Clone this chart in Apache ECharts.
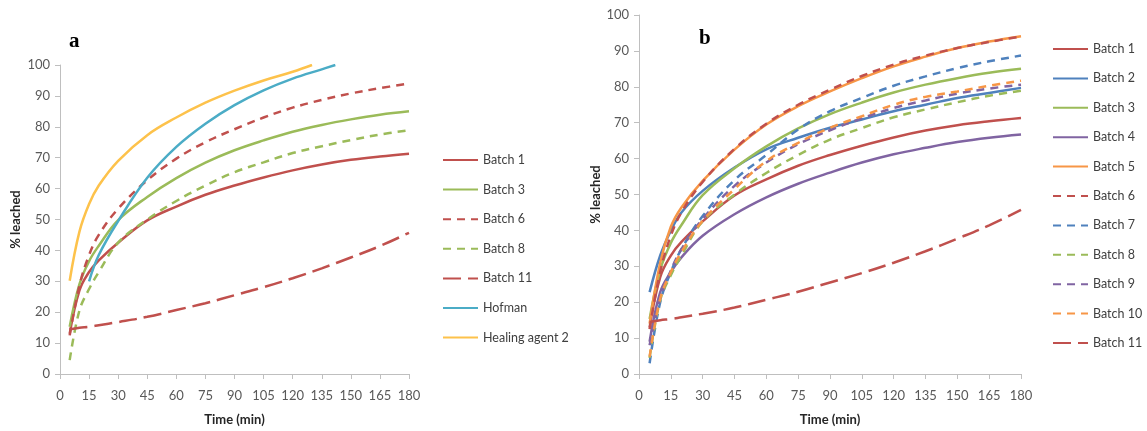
<!DOCTYPE html>
<html>
<head>
<meta charset="utf-8">
<script src="https://cdn.jsdelivr.net/npm/echarts@6/dist/echarts.min.js"></script>
<style>
  html, body { margin: 0; padding: 0; background: #fff; }
  #chart { width: 1147px; height: 431px; }
</style>
</head>
<body>
<div id="chart"></div>
<script>
// time points (min) shared by the batches
const times = [5, 10, 15, 20, 30, 45, 60, 75, 90, 105, 120, 135, 150, 165, 180];

const batch1  = [13, 27, 33, 36.8, 42.5, 49.7, 54.2, 58, 61, 63.6, 65.9, 67.8, 69.3, 70.4, 71.3];
const batch2  = [22.8, 33, 39.9, 45, 51, 57.5, 62.6, 65.8, 68.6, 70.9, 73.2, 75, 76.9, 78.3, 79.7];
const batch3  = [15.3, 29, 36.5, 41.5, 49.8, 57.3, 63.4, 68.4, 72.4, 75.6, 78.4, 80.6, 82.4, 83.9, 85];
const batch4  = [9, 22.8, 28.4, 32.5, 38.5, 44.5, 49.2, 53, 56.1, 58.9, 61.2, 63, 64.6, 65.8, 66.7];
const batch5  = [14, 31, 41, 46.4, 53.8, 62.5, 69.5, 74.6, 78.7, 82.4, 85.7, 88.4, 90.8, 92.6, 94.1];
const batch6  = [12.5, 28.5, 38.5, 45, 53.5, 62.7, 69.7, 75, 79.2, 83, 86.2, 88.7, 90.8, 92.5, 94];
const batch7  = [3, 20, 28.4, 34.8, 44, 54, 61, 68.1, 73.2, 76.9, 80.3, 82.9, 85.2, 87.1, 88.7];
const batch8  = [4.5, 20.5, 27.5, 33, 42.5, 50, 56, 61, 65.3, 68.5, 71.5, 73.7, 75.7, 77.5, 78.9];
const batch9  = [8, 21, 28.8, 34.8, 43.2, 52.4, 58.9, 64, 67.9, 71.2, 74.1, 76.2, 78.1, 79.5, 80.6];
const batch10 = [4.8, 21, 28.4, 34, 42.7, 51.5, 59.3, 64.4, 68.6, 71.8, 75, 77.2, 78.7, 80.3, 81.7];
const batch11 = [14.5, 15, 15.3, 15.8, 16.8, 18.5, 20.7, 22.9, 25.5, 28.1, 31, 34.2, 37.7, 41.4, 45.7];

const hofmanTimes = [15, 20, 30, 45, 60, 75, 90, 105, 120, 135, 142];
const hofman = [30, 38.5, 49.5, 63.5, 73.5, 81, 87, 91.8, 95.6, 98.6, 100];

const healingTimes = [5, 10, 15, 20, 30, 45, 60, 75, 90, 105, 120, 130];
const healing = [30.2, 46, 55, 61, 69, 77.3, 83, 87.8, 91.7, 95, 97.8, 100];

const RED = '#C0504D', BLUE = '#4F81BD', GREEN = '#9BBB59', PURPLE = '#8064A2',
      ORANGE = '#F79646', AQUA = '#4BACC6', YELLOW = '#FDC24B';
const SHORT = [8, 6], LONG = [18, 7];
const FONT = 'Lato';

function pairs(xs, ys) {
  return xs.map((x, i) => [x, ys[i]]);
}

function line(name, xs, ys, color, dash, idx) {
  return {
    name: name,
    type: 'line',
    xAxisIndex: idx,
    yAxisIndex: idx,
    data: pairs(xs, ys),
    smooth: 0.4,
    symbol: 'none',
    lineStyle: { color: color, width: 2.5, type: dash || 'solid' },
    itemStyle: { color: color }
  };
}

function xAx(idx) {
  return {
    type: 'value', gridIndex: idx, min: 0, max: 180, interval: 15,
    name: 'Time (min)', nameLocation: 'middle', nameGap: 39,
    nameTextStyle: { fontFamily: FONT, fontWeight: 'bold', fontSize: 13, color: '#262626' },
    axisLine: { lineStyle: { color: '#BFBFBF' } },
    axisTick: { show: true, length: 5, lineStyle: { color: '#BFBFBF' } },
    axisLabel: { margin: 15, fontFamily: FONT, fontSize: 13, color: '#595959' },
    splitLine: { show: false }
  };
}

function yAx(idx, gap) {
  return {
    type: 'value', gridIndex: idx, min: 0, max: 100, interval: 10,
    name: '% leached', nameLocation: 'middle', nameGap: gap,
    nameTextStyle: { fontFamily: FONT, fontWeight: 'bold', fontSize: 13, color: '#262626' },
    axisLine: { show: true, lineStyle: { color: '#BFBFBF' } },
    axisTick: { show: true, length: 5, lineStyle: { color: '#BFBFBF' } },
    axisLabel: { margin: 10, fontFamily: FONT, fontSize: 13, color: '#595959' },
    splitLine: { show: false }
  };
}

function legend(names, left, top, gap) {
  return {
    orient: 'vertical', left: left, top: top, padding: 0,
    itemWidth: 35, itemHeight: 14, itemGap: gap,
    data: names,
    selectedMode: false,
    itemStyle: { opacity: 0 },
    textStyle: { fontFamily: FONT, fontSize: 12.5, color: '#404040', lineHeight: 14 }
  };
}

const chart = echarts.init(document.getElementById('chart'));

const option = {
  animation: false,
  backgroundColor: '#fff',
  grid: [
    { left: 60, top: 65, width: 349, height: 309 },
    { left: 639, top: 15, width: 382, height: 361 }
  ],
  xAxis: [xAx(0), xAx(1)],
  yAxis: [yAx(0, 38), yAx(1, 30)],
  legend: [
    legend(['Batch 1', 'Batch 3', 'Batch 6', 'Batch 8', 'Batch 11', 'Hofman', 'Healing agent 2'], 442, 153, 15.6),
    legend(['Batch 1', 'Batch 2', 'Batch 3', 'Batch 4', 'Batch 5', 'Batch 6', 'Batch 7',
            'Batch 8', 'Batch 9', 'Batch 10', 'Batch 11'], 1052, 42, 15.4)
  ],
  graphic: [
    { type: 'text', left: 69, top: 31,
      style: { text: 'a', font: 'bold 21px "Liberation Serif"', fill: '#000' } },
    { type: 'text', left: 699, top: 28,
      style: { text: 'b', font: 'bold 21px "Liberation Serif"', fill: '#000' } }
  ],
  series: [
    // panel a
    line('Batch 1', times, batch1, RED, null, 0),
    line('Batch 3', times, batch3, GREEN, null, 0),
    line('Batch 6', times, batch6, RED, SHORT, 0),
    line('Batch 8', times, batch8, GREEN, SHORT, 0),
    line('Batch 11', times, batch11, RED, LONG, 0),
    line('Hofman', hofmanTimes, hofman, AQUA, null, 0),
    line('Healing agent 2', healingTimes, healing, YELLOW, null, 0),
    // panel b
    line('Batch 1', times, batch1, RED, null, 1),
    line('Batch 2', times, batch2, BLUE, null, 1),
    line('Batch 3', times, batch3, GREEN, null, 1),
    line('Batch 4', times, batch4, PURPLE, null, 1),
    line('Batch 5', times, batch5, ORANGE, null, 1),
    line('Batch 6', times, batch6, RED, SHORT, 1),
    line('Batch 7', times, batch7, BLUE, SHORT, 1),
    line('Batch 8', times, batch8, GREEN, SHORT, 1),
    line('Batch 9', times, batch9, PURPLE, SHORT, 1),
    line('Batch 10', times, batch10, ORANGE, SHORT, 1),
    line('Batch 11', times, batch11, RED, LONG, 1)
  ]
};

chart.setOption(option);
</script>
</body>
</html>
